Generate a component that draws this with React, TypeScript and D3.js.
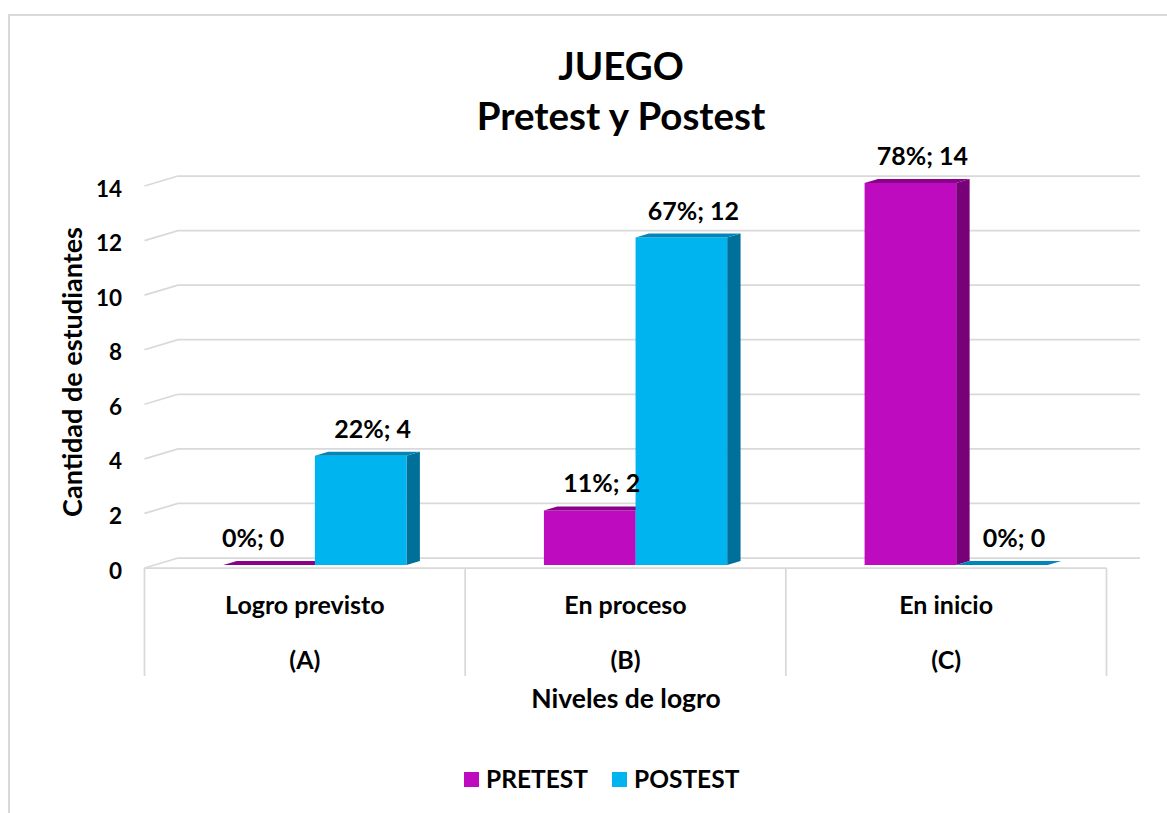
import React, { useEffect, useRef } from 'react';
import * as d3 from 'd3';

const categories = ['Logro previsto', 'En proceso', 'En inicio'];
const categoryCodes = ['(A)', '(B)', '(C)'];
const seriesNames = ['PRETEST', 'POSTEST'];
const pretestValues = [0, 2, 14];
const postestValues = [4, 12, 0];
const pretestPercents = ['0%', '11%', '78%'];
const postestPercents = ['22%', '67%', '0%'];
const yTicks = [0, 2, 4, 6, 8, 10, 12, 14];

const colors = {
  PRETEST: { front: '#BF0BBF', top: '#8A008A', side: '#780078' },
  POSTEST: { front: '#00B4F0', top: '#0087BA', side: '#00709A' },
};

const FONT = 'Lato, "Open Sans", sans-serif';

const App = () => {
  const ref = useRef<SVGSVGElement>(null);

  useEffect(() => {
    const width = 1167;
    const height = 813;
    const svg = d3.select(ref.current);
    svg.selectAll('*').remove();

    // depth offset of the 3D box (back plane -> front plane)
    const DX = -33.5;
    const DY = 10;
    const zFront = 0.7;
    const zBack = 0.3;

    const x0 = d3.scaleBand().domain(categories).range([178, 1140]).padding(0);
    const x1 = d3
      .scaleBand()
      .domain(seriesNames)
      .range([0, x0.bandwidth()])
      .paddingInner(0)
      .paddingOuter(0.75);
    const y = d3.scaleLinear().domain([0, 14]).range([558, 176]);

    const P = (x: number, yy: number, z: number) => [x + DX * z, yy + DY * z];

    // outer frame
    svg
      .append('rect')
      .attr('x', 9)
      .attr('y', 15)
      .attr('width', width + 50)
      .attr('height', height + 50)
      .attr('fill', 'white')
      .attr('stroke', '#d9d9d9')
      .attr('stroke-width', 2);

    // gridlines: back wall + left side wall slant
    const grid = svg.append('g').attr('stroke', '#d9d9d9').attr('stroke-width', 1.75).attr('fill', 'none');
    yTicks.forEach((t) => {
      const [fx, fy] = P(178, y(t), 1);
      grid.append('path').attr('d', `M${fx},${fy}L178,${y(t)}L1140,${y(t)}`);
    });
    // floor front edge and category separators
    const floorY = y(0) + DY;
    grid.append('line').attr('x1', 178 + DX).attr('x2', 1140 + DX).attr('y1', floorY).attr('y2', floorY);
    const seps = categories.map((c) => x0(c)!).concat([1140]);
    seps.forEach((sx) => {
      grid
        .append('line')
        .attr('x1', sx + DX)
        .attr('x2', sx + DX)
        .attr('y1', floorY)
        .attr('y2', 676);
    });

    // y tick labels
    svg
      .append('g')
      .selectAll('text')
      .data(yTicks)
      .enter()
      .append('text')
      .attr('x', 122)
      .attr('y', (d) => y(d) + DY + 2)
      .attr('text-anchor', 'end')
      .attr('dominant-baseline', 'central')
      .attr('font-family', FONT)
      .attr('font-weight', 700)
      .attr('font-size', 22.5)
      .text((d) => d);

    // bars
    const rows = categories.flatMap((c, i) => [
      { cat: c, s: 'PRETEST', v: pretestValues[i], pct: pretestPercents[i], i },
      { cat: c, s: 'POSTEST', v: postestValues[i], pct: postestPercents[i], i },
    ]);

    const poly = (pts: number[][]) => 'M' + pts.map((p) => p.join(',')).join('L') + 'Z';
    const bars = svg.append('g');
    rows.forEach((r) => {
      const c = colors[r.s as 'PRETEST' | 'POSTEST'];
      const xa = x0(r.cat)! + x1(r.s)!;
      const xb = xa + x1.bandwidth();
      const yt = y(r.v);
      const yb = y(0);
      // side face
      bars
        .append('path')
        .attr('d', poly([P(xb, yt, zFront), P(xb, yt, zBack), P(xb, yb, zBack), P(xb, yb, zFront)]))
        .attr('fill', c.side);
      // front face
      bars
        .append('path')
        .attr('d', poly([P(xa, yt, zFront), P(xb, yt, zFront), P(xb, yb, zFront), P(xa, yb, zFront)]))
        .attr('fill', c.front);
      // top face
      bars
        .append('path')
        .attr('d', poly([P(xa, yt, zFront), P(xb, yt, zFront), P(xb, yt, zBack), P(xa, yt, zBack)]))
        .attr('fill', c.top);
    });

    // data labels
    const labelNudge: Record<string, number> = { 'Logro previsto|PRETEST': -28 };
    svg
      .append('g')
      .selectAll('text')
      .data(rows)
      .enter()
      .append('text')
      .attr('x', (r) => {
        const xa = x0(r.cat)! + x1(r.s)!;
        const cx = xa + x1.bandwidth() / 2 + DX * zFront + 12;
        return cx + (labelNudge[`${r.cat}|${r.s}`] || 0);
      })
      .attr('y', (r) => y(r.v) - 11)
      .attr('text-anchor', 'middle')
      .attr('font-family', FONT)
      .attr('font-weight', 700)
      .attr('font-size', 25)
      .text((r) => `${r.pct}; ${r.v}`);

    // category labels
    const catG = svg.append('g').attr('font-family', FONT).attr('font-weight', 700).attr('text-anchor', 'middle');
    categories.forEach((c, i) => {
      const cx = x0(c)! + x0.bandwidth() / 2 + DX;
      catG.append('text').attr('x', cx).attr('y', 614).attr('font-size', 25).text(c);
      catG.append('text').attr('x', cx).attr('y', 669).attr('font-size', 25).text(categoryCodes[i]);
    });

    // axis titles
    svg
      .append('text')
      .attr('x', 626)
      .attr('y', 708)
      .attr('text-anchor', 'middle')
      .attr('font-family', FONT)
      .attr('font-weight', 700)
      .attr('font-size', 26.5)
      .text('Niveles de logro');
    svg
      .append('text')
      .attr('transform', 'translate(82,372) rotate(-90)')
      .attr('text-anchor', 'middle')
      .attr('font-family', FONT)
      .attr('font-weight', 700)
      .attr('font-size', 27)
      .text('Cantidad de estudiantes');

    // title
    const title = svg.append('g').attr('font-family', FONT).attr('font-weight', 700).attr('text-anchor', 'middle').attr('font-size', 38.5);
    title.append('text').attr('x', 621).attr('y', 80).text('JUEGO');
    title.append('text').attr('x', 621).attr('y', 130).text('Pretest y Postest');

    // legend
    const legend = svg.append('g').attr('font-family', FONT).attr('font-weight', 700).attr('font-size', 24.5);
    const legendX = [464, 612];
    seriesNames.forEach((s, i) => {
      legend
        .append('rect')
        .attr('x', legendX[i])
        .attr('y', 772)
        .attr('width', 15)
        .attr('height', 15)
        .attr('fill', colors[s as 'PRETEST' | 'POSTEST'].front);
      legend
        .append('text')
        .attr('x', legendX[i] + 22)
        .attr('y', 788)
        .text(s);
    });
  }, []);

  return (
    <svg
      ref={ref}
      width={1167}
      height={813}
      style={{ position: 'fixed', left: 0, top: 0, background: 'white' }}
    />
  );
};

export default App;
